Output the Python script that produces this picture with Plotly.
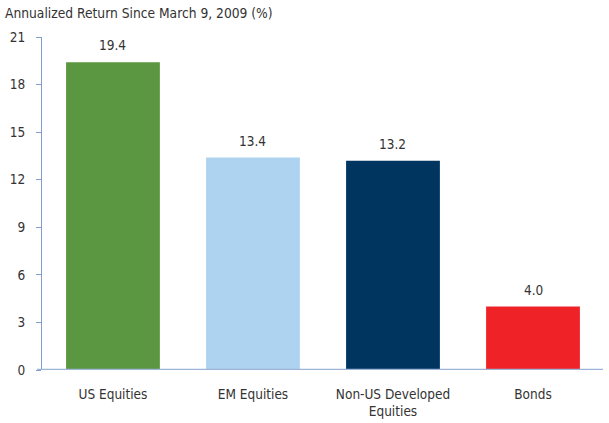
import plotly.graph_objects as go

categories = ["US Equities", "EM Equities", "Non-US Developed<br>Equities", "Bonds"]
values = [19.4, 13.4, 13.2, 4.0]
colors = ["#5B9741", "#AED3F0", "#00355F", "#EE2227"]
y_ticks = [0, 3, 6, 9, 12, 15, 18, 21]
title_text = "Annualized Return Since March 9, 2009 (%)"

FONT = "DejaVu Sans Condensed, Liberation Sans Narrow, Roboto, sans-serif"
TXT = "#333333"
FS = 13.5
W, H = 609, 423
ML, MR, MT, MB = 42, 6, 37, 53

fig = go.Figure()
fig.add_trace(go.Bar(
    x=categories, y=values, marker=dict(color=colors, line=dict(width=0)),
    width=0.67, hoverinfo="skip",
))

for c, v in zip(categories, values):
    fig.add_annotation(x=c, y=v, text=f"{v:.1f}", showarrow=False,
                       yanchor="bottom", yshift=7,
                       font=dict(family=FONT, size=FS, color=TXT))

# baseline extending slightly left of the y-axis
fig.add_shape(type="line", xref="paper", yref="y", x0=-5/(W-ML-MR), x1=1,
              y0=0, y1=0, line=dict(color="#9DB4D6", width=2.5), layer="above")

fig.update_layout(
    width=W, height=H,
    margin=dict(l=ML, r=MR, t=MT, b=MB, autoexpand=False),
    paper_bgcolor="white", plot_bgcolor="white",
    showlegend=False,
    font=dict(family=FONT, size=FS, color=TXT),
    title=dict(text=title_text, x=5/W, xanchor="left", y=1-13/H, yanchor="middle",
               font=dict(family=FONT, size=13.7, color=TXT)),
    xaxis=dict(range=[-0.507, 3.5], showline=False, showgrid=False, zeroline=False,
               automargin=False, ticks="", ticklabelstandoff=14,
               tickfont=dict(family=FONT, size=FS, color=TXT)),
    yaxis=dict(range=[0, 21], tickvals=y_ticks, showgrid=False, zeroline=False,
               automargin=False,
               showline=True, linecolor="#7F9FD0", linewidth=1,
               ticks="outside", ticklen=5, tickcolor="#7F9FD0", tickwidth=1,
               ticklabelstandoff=8,
               tickfont=dict(family=FONT, size=FS, color=TXT)),
)

fig.write_html("out.html", config={"displayModeBar": False},
               post_script="document.body.style.margin='0px';")
